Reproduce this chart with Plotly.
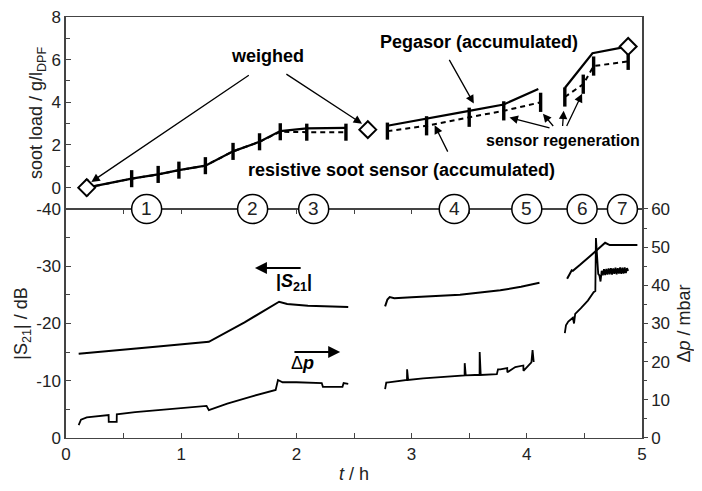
import plotly.graph_objects as go

FONT = "Liberation Sans, Arial, sans-serif"
AX = "#444"

# --- top panel: accumulated soot load (g/l DPF) ---
peg_t = [0.18, 0.57, 0.80, 0.98, 1.21, 1.45, 1.68, 1.86, 2.09, 2.43, None,
         2.79, 3.13, 3.50, 3.80, 4.10, None,
         4.33, 4.57, 4.88]
peg_v = [0.0, 0.42, 0.62, 0.82, 1.03, 1.70, 2.15, 2.65, 2.78, 2.80, None,
         2.90, 3.25, 3.60, 3.90, 4.63, None,
         4.67, 6.30, 6.62]

res_t = [0.18, 0.57, 0.80, 0.98, 1.21, 1.45, 1.68, 1.86, 2.09, 2.43, None,
         2.79, 3.13, 3.50, 3.80, 4.12, None,
         4.33, 4.49, 4.58, 4.88]
res_v = [0.0, 0.42, 0.62, 0.82, 1.03, 1.70, 2.15, 2.62, 2.60, 2.60, None,
         2.65, 2.90, 3.30, 3.60, 4.00, None,
         4.25, 4.85, 5.70, 5.92]
res_err = [0.4, 0.4, 0.4, 0.4, 0.4, 0.4, 0.4, 0.4, 0.4, 0.4, None,
           0.4, 0.45, 0.45, 0.45, 0.45, None,
           0.45, 0.45, 0.45, 0.4]

weigh_t = [0.18, 2.62, 4.88]
weigh_v = [0.0, 2.72, 6.62]

# --- bottom panel: |S21| (dB) and differential pressure (mbar) ---
s21_t = [0.11, 0.40, 0.80, 1.24, 1.55, 1.85, 1.92, 2.10, 2.45, None,
         2.77, 2.79, 2.81, 2.85, 3.00, 3.42, 3.77, 3.95, 4.11, None,
         4.35, 4.39, 4.40, 4.42, 4.46, 4.58, 4.68, 4.72, 4.96]
s21_db = [-14.7, -15.3, -16.0, -16.8, -20.2, -23.8, -23.4, -23.1, -22.9, None,
          -23.0, -24.2, -24.6, -24.4, -24.6, -25.0, -25.8, -26.4, -27.1, None,
          -27.8, -29.3, -29.2, -29.5, -30.2, -32.3, -34.1, -33.7, -33.7]

dp_t = [0.11, 0.13, 0.18, 0.29, 0.37, 0.371, 0.44, 0.441, 0.60, 0.80, 1.00, 1.22,
        1.24, 1.40, 1.60, 1.82, 1.84, 1.88, 2.00, 2.22, 2.23, 2.40, 2.41, 2.45, None,
        2.77, 2.78, 2.80, 2.90, 2.96, 2.961, 2.97, 3.10, 3.30, 3.46, 3.461, 3.47,
        3.55, 3.59, 3.591, 3.60, 3.74, 3.75, 3.77, 3.83, 3.831, 3.90, 3.97, 3.971,
        4.04, 4.05, 4.06, None,
        4.33, 4.34, 4.36, 4.40, 4.41, 4.42, 4.47, 4.53, 4.58, 4.595, 4.60, 4.61,
        4.62, 4.63, 4.64, 4.65, 4.66, 4.67, 4.68, 4.69, 4.70, 4.71, 4.72, 4.73,
        4.74, 4.75, 4.76, 4.77, 4.78, 4.79, 4.80, 4.81, 4.82, 4.83, 4.84, 4.85,
        4.86, 4.87, 4.88]
dp_mbar = [3.4, 4.8, 5.4, 5.7, 6.0, 4.2, 4.2, 6.2, 6.8, 7.3, 7.9, 8.4,
           7.3, 9.0, 10.8, 12.6, 15.2, 14.6, 14.6, 14.4, 13.4, 13.4, 14.4, 14.2, None,
           12.8, 14.5, 14.6, 15.0, 15.2, 18.0, 15.2, 15.6, 16.0, 16.4, 19.6, 16.4,
           16.5, 16.5, 22.5, 16.5, 16.7, 18.0, 18.0, 18.3, 17.2, 18.6, 19.0, 17.6,
           19.8, 23.0, 19.9, None,
           27.5, 29.5, 30.5, 31.5, 30.0, 32.5, 34.0, 36.0, 38.2, 38.5, 52.4, 46.0,
           43.0, 42.6, 41.0, 43.8, 42.6, 44.2, 42.7, 44.3, 42.8, 44.4, 42.9, 44.5,
           42.8, 44.4, 43.0, 44.6, 42.9, 44.5, 43.1, 44.7, 43.0, 44.6, 43.1, 44.7,
           43.2, 44.5, 43.8]

phase_t = [0.70, 1.62, 2.15, 3.37, 4.00, 4.48, 4.83]
phase_lbl = ["1", "2", "3", "4", "5", "6", "7"]

fig = go.Figure()

fig.add_trace(go.Scatter(x=res_t, y=res_v, xaxis="x2", yaxis="y", mode="lines",
                         line=dict(color="black", width=2, dash="5px,4px"),
                         error_y=dict(type="data", array=res_err, color="black",
                                      thickness=3.4, width=0),
                         connectgaps=False))
fig.add_trace(go.Scatter(x=peg_t, y=peg_v, xaxis="x2", yaxis="y", mode="lines",
                         line=dict(color="black", width=2.2)))
fig.add_trace(go.Scatter(x=weigh_t, y=weigh_v, xaxis="x2", yaxis="y", mode="markers",
                         marker=dict(symbol="diamond", size=13, color="white",
                                     line=dict(color="black", width=2))))

fig.add_trace(go.Scatter(x=s21_t, y=s21_db, xaxis="x", yaxis="y2", mode="lines",
                         line=dict(color="black", width=2)))
fig.add_trace(go.Scatter(x=dp_t, y=dp_mbar, xaxis="x", yaxis="y3", mode="lines",
                         line=dict(color="black", width=1.8)))

tickfont = dict(family=FONT, size=17, color="#222")
titlefont = dict(family=FONT, size=18, color="#222")
split = 0.544

# the page body adds an 8px margin, so the figure is 8px smaller and offset
fig.update_layout(
    width=694, height=483,
    margin=dict(l=58, r=60, t=9, b=53),
    paper_bgcolor="white", plot_bgcolor="white",
    showlegend=False,
    font=dict(family=FONT, color="black"),
    xaxis=dict(domain=[0, 1], anchor="y2", range=[0, 5], dtick=1, automargin=False,
               ticks="inside", ticklen=5, tickcolor=AX, ticklabeloverflow="allow",
               minor=dict(dtick=0.5, ticks="inside", ticklen=5, tickcolor=AX),
               showline=True, linecolor=AX, linewidth=1.3, mirror="ticks",
               showgrid=False, zeroline=False, tickfont=tickfont,
               title=dict(text="<i>t</i> / h", font=titlefont, standoff=4)),
    xaxis2=dict(domain=[0, 1], anchor="y", matches="x", showticklabels=False,
                automargin=False,
                ticks="", showline=True, linecolor=AX, linewidth=1.3, mirror=True,
                showgrid=False, zeroline=False),
    yaxis=dict(domain=[split, 1], anchor="x2", range=[-1, 8], automargin=False,
               tickvals=[0, 2, 4, 6, 8], ticks="inside", ticklen=5, tickcolor=AX,
               ticklabeloverflow="allow",
               minor=dict(tickvals=[1, 3, 5, 7], ticks="inside", ticklen=4, tickcolor=AX),
               showline=True, linecolor=AX, linewidth=1.5, mirror=True,
               showgrid=False, zeroline=False, tickfont=tickfont,
               title=dict(text="soot load / g/l<sub>DPF</sub>", font=titlefont, standoff=4)),
    yaxis2=dict(domain=[0, split], anchor="x", range=[0, -40], automargin=False,
                tickvals=[0, -10, -20, -30, -40], ticktext=["0", "-10", "-20", "-30", "-40"],
                ticks="inside", ticklen=5, tickcolor=AX, ticklabeloverflow="allow",
                minor=dict(tickvals=[-5, -15, -25, -35], ticks="inside", ticklen=4, tickcolor=AX),
                showline=True, linecolor=AX, linewidth=1.5,
                showgrid=False, zeroline=False, tickfont=tickfont,
                title=dict(text="|S<sub>21</sub>| / dB", font=titlefont, standoff=4)),
    yaxis3=dict(domain=[0, split], anchor="x", overlaying="y2", side="right",
                range=[0, 60], tickvals=[0, 10, 20, 30, 40, 50, 60], automargin=False,
                ticks="outside", ticklen=4, tickcolor=AX, ticklabeloverflow="allow",
                minor=dict(tickvals=[5, 15, 25, 35, 45, 55], ticks="outside", ticklen=3, tickcolor=AX),
                showline=True, linecolor=AX, linewidth=1.5,
                showgrid=False, zeroline=False, tickfont=tickfont,
                title=dict(text="Δ<i>p</i> / mbar", font=titlefont, standoff=8)),
)

# numbered phase circles on the panel boundary (paper coords so they are not clipped)
for t, lbl in zip(phase_t, phase_lbl):
    fig.add_shape(type="circle", xref="x", yref="paper", xsizemode="pixel", ysizemode="pixel",
                  xanchor=t, yanchor=split, x0=-15, x1=15, y0=-14.5, y1=14.5,
                  fillcolor="white", line=dict(color="black", width=1.5), layer="above")
    fig.add_annotation(x=t, y=split, xref="x", yref="paper", text=lbl, showarrow=False,
                       font=dict(family=FONT, size=19, color="#222"))

bold = dict(family=FONT, size=18, color="black")
texts = [
    (1.75, 6.16, "<b>weighed</b>", bold),
    (3.585, 6.85, "<b>Pegasor (accumulated)</b>", bold),
    (2.91, 0.83, "<b>resistive soot sensor (accumulated)</b>", bold),
    (4.31, 2.22, "<b>sensor regeneration</b>", dict(family=FONT, size=16, color="black")),
]
for x, y, txt, f in texts:
    fig.add_annotation(x=x, y=y, xref="x2", yref="y", text=txt, showarrow=False, font=f)

# arrows: (tail_t, tail_v, tip_t, tip_v)
top_arrows = [
    (1.60, 5.32, 0.22, 0.27),
    (1.90, 5.37, 2.57, 3.00),
    (3.32, 6.06, 3.54, 3.94),
    (3.32, 1.62, 3.20, 2.92),
    (4.21, 2.78, 3.85, 3.29),
    (4.24, 2.82, 4.14, 3.47),
    (4.31, 2.82, 4.32, 3.61),
    (4.34, 2.82, 4.48, 4.40),
]
for tx, ty, hx, hy in top_arrows:
    fig.add_annotation(x=hx, y=hy, ax=tx, ay=ty, xref="x2", yref="y", axref="x2", ayref="y",
                       text="", showarrow=True, arrowhead=2, arrowsize=1.3, arrowwidth=1.3,
                       arrowcolor="black")

fig.add_annotation(x=1.64, y=-29.7, ax=2.05, ay=-29.7, xref="x", yref="y2", axref="x", ayref="y2",
                   text="", showarrow=True, arrowhead=2, arrowsize=1.2, arrowwidth=2,
                   arrowcolor="black")
fig.add_annotation(x=2.38, y=-15.0, ax=1.97, ay=-15.0, xref="x", yref="y2", axref="x", ayref="y2",
                   text="", showarrow=True, arrowhead=2, arrowsize=1.2, arrowwidth=2,
                   arrowcolor="black")
fig.add_annotation(x=1.98, y=-27.1, xref="x", yref="y2", showarrow=False,
                   text="<b>|<i>S</i><sub>21</sub>|</b>", font=bold)
fig.add_annotation(x=2.05, y=-13.1, xref="x", yref="y2", showarrow=False,
                   text="Δ<b><i>p</i></b>", font=bold)

fig.write_html("out.html")
